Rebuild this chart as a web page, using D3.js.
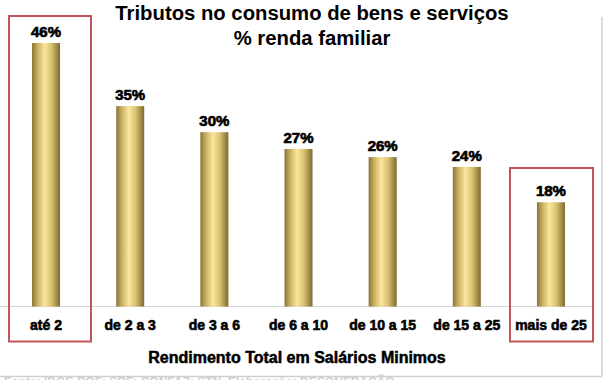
<!DOCTYPE html>
<html><head><meta charset="utf-8">
<script src="https://cdn.jsdelivr.net/npm/d3@7"></script>
<style>body{margin:0;background:#fff}svg{display:block}</style>
</head><body>
<svg id="c" width="604" height="380"></svg>
<script>
const categories = ["até 2","de 2 a 3","de 3 a 6","de 6 a 10","de 10 a 15","de 15 a 25","mais de 25"];
const values = [45.5, 34.6, 30.1, 27.2, 25.8, 24.1, 18.0];
const highlighted = ["até 2","mais de 25"];
const titleLines = ["Tributos no consumo de bens e serviços","% renda familiar"];
const xTitle = "Rendimento Total em Salários Minimos";

const svg = d3.select("#c");
const font = "Arial, 'Liberation Sans', sans-serif";
const base = 306.5;
const x = d3.scaleBand().domain(categories).range([4, 593]).paddingInner(0.667).paddingOuter(0.333);
const y = d3.scaleLinear().domain([0, 45.5]).range([base, 43]);

const defs = svg.append("defs");
const g = defs.append("linearGradient").attr("id","gold").attr("x1","0").attr("x2","1").attr("y1","0").attr("y2","0");
[[0,"#8a7535"],[0.2,"#c9b063"],[0.45,"#fbe69d"],[0.7,"#d8c070"],[1,"#7c6a2e"]].forEach(([o,c])=>g.append("stop").attr("offset",o).attr("stop-color",c));

// frame
svg.append("line").attr("x1",602).attr("x2",602).attr("y1",17).attr("y2",376).attr("stroke","#cfcfcf").attr("stroke-width",1.5);
svg.append("line").attr("x1",0).attr("x2",602).attr("y1",376.5).attr("y2",376.5).attr("stroke","#cfcfcf").attr("stroke-width",1.5);
svg.append("text").attr("x",4).attr("y",386).attr("font-family",font).attr("font-size",12).attr("font-weight","bold").attr("fill","#d0d0d0").text("Fonte: IBGE-POF; SRF; CONFAZ; STN. Elaboração: DESONERAÇÃO");

// axis line
svg.append("line").attr("x1",0).attr("x2",592).attr("y1",base).attr("y2",base).attr("stroke","#d4d4d4").attr("stroke-width",1);

// bars
svg.selectAll("rect.bar").data(values).join("rect").attr("class","bar")
  .attr("x",(d,i)=>x(categories[i])).attr("width",x.bandwidth())
  .attr("y",d=>y(d)).attr("height",d=>base-y(d)).attr("fill","url(#gold)");

// value labels
svg.selectAll("text.val").data(values).join("text").attr("class","val")
  .attr("x",(d,i)=>x(categories[i])+x.bandwidth()/2).attr("y",d=>y(d)-6)
  .attr("text-anchor","middle").attr("font-family",font).attr("font-size",15).attr("font-weight","bold")
  .attr("fill","#000").attr("stroke","#000").attr("stroke-width",0.7)
  .text(d=>d3.format(".0f")(d)+"%");

// category labels
svg.selectAll("text.cat").data(categories).join("text").attr("class","cat")
  .attr("x",d=>x(d)+x.bandwidth()/2).attr("y",330)
  .attr("text-anchor","middle").attr("font-family",font).attr("font-size",14).attr("font-weight","bold")
  .attr("fill","#000").attr("stroke","#000").attr("stroke-width",0.6).text(d=>d);

// highlight boxes
const boxes = [{c:"até 2", top:16, x0:9, x1:91},{c:"mais de 25", top:168, x0:510, x1:593}];
svg.selectAll("rect.hl").data(boxes.filter(b=>highlighted.includes(b.c))).join("rect").attr("class","hl")
  .attr("x",b=>b.x0).attr("width",b=>b.x1-b.x0).attr("y",b=>b.top).attr("height",b=>341.5-b.top)
  .attr("fill","none").attr("stroke","#c0565a").attr("stroke-width",2);

// title
svg.selectAll("text.title").data(titleLines).join("text").attr("class","title")
  .attr("x",312).attr("y",(d,i)=>20+i*25).attr("text-anchor","middle")
  .attr("font-family",font).attr("font-size",20.3).attr("font-weight","bold").attr("fill","#000").text(d=>d);

svg.append("text").attr("x",297).attr("y",363).attr("text-anchor","middle")
  .attr("font-family",font).attr("font-size",16).attr("font-weight","bold").attr("fill","#000")
  .attr("stroke","#000").attr("stroke-width",0.5).text(xTitle);
</script>
</body></html>
